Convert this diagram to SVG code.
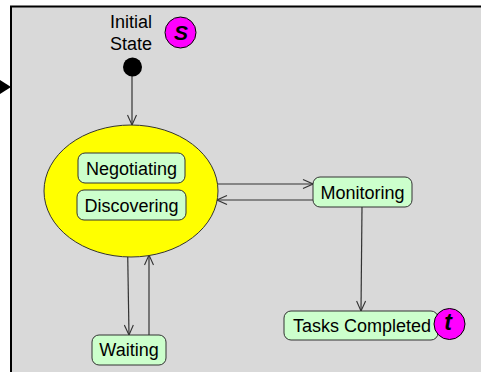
<svg xmlns="http://www.w3.org/2000/svg" width="481" height="372" viewBox="0 0 481 372">
<defs>
<style>
.lbl{font-family:"Liberation Sans",Arial,sans-serif;font-size:18px;fill:#000;text-anchor:middle}
.box{fill:#ccffcc;stroke:#333;stroke-width:1}
.badge{fill:#ff00ff;stroke:#000;stroke-width:1}
.bt{font-family:"Liberation Sans",Arial,sans-serif;font-weight:bold;font-style:italic;fill:#000;text-anchor:middle}
.conn{fill:none;stroke:#333;stroke-width:1.2}
</style>
<marker id="arr" viewBox="0 0 12 10" refX="11" refY="5" markerWidth="12" markerHeight="10" markerUnits="userSpaceOnUse" orient="auto">
<path d="M1,0.5 L11,5 L1,9.5" fill="none" stroke="#333" stroke-width="1.1"/>
</marker>
</defs>
<rect x="0" y="0" width="481" height="372" fill="#fff"/>
<rect x="11" y="6.5" width="480" height="380" fill="#d9d9d9" stroke="#000" stroke-width="2"/>
<polygon points="0,80 11,87 0,94" fill="#000"/>
<g id="connectors">
<line class="conn" x1="132" y1="76" x2="132" y2="125" marker-end="url(#arr)"/>
<line class="conn" x1="217" y1="184" x2="313" y2="184" marker-end="url(#arr)"/>
<line class="conn" x1="313" y1="200" x2="217" y2="200" marker-end="url(#arr)"/>
<line class="conn" x1="362" y1="207" x2="361" y2="311" marker-end="url(#arr)"/>
<line class="conn" x1="127.7" y1="255" x2="129" y2="335" marker-end="url(#arr)"/>
<line class="conn" x1="149" y1="335" x2="149" y2="255" marker-end="url(#arr)"/>
</g>
<g id="initial">
<text class="lbl" x="131" y="28">Initial</text>
<text class="lbl" x="131" y="50">State</text>
<circle cx="132.5" cy="67" r="9.5" fill="#000"/>
</g>
<g id="s-badge">
<circle class="badge" cx="180.5" cy="32.5" r="15.5"/>
<text class="bt" x="181" y="40" font-size="21">S</text>
</g>
<g id="composite">
<ellipse cx="131" cy="191" rx="87" ry="66" fill="#ffff00" stroke="#333" stroke-width="1"/>
</g>
<g id="negotiating">
<rect class="box" x="78" y="153" width="107" height="30" rx="7"/>
<text class="lbl" x="131.5" y="174.5">Negotiating</text>
</g>
<g id="discovering">
<rect class="box" x="77" y="190" width="109" height="30" rx="7"/>
<text class="lbl" x="131.5" y="211.5">Discovering</text>
</g>
<g id="monitoring">
<rect class="box" x="313" y="177" width="99" height="30" rx="7"/>
<text class="lbl" x="362.5" y="199">Monitoring</text>
</g>
<g id="tasks-completed">
<rect class="box" x="284" y="311" width="154" height="29" rx="7"/>
<text class="lbl" x="362" y="332">Tasks Completed</text>
</g>
<g id="t-badge">
<circle class="badge" cx="449.5" cy="324" r="15.5"/>
<text class="bt" x="448" y="330" font-size="23">t</text>
</g>
<g id="waiting">
<rect class="box" x="92" y="335" width="74" height="30" rx="7"/>
<text class="lbl" x="129" y="355.5">Waiting</text>
</g>
</svg>
